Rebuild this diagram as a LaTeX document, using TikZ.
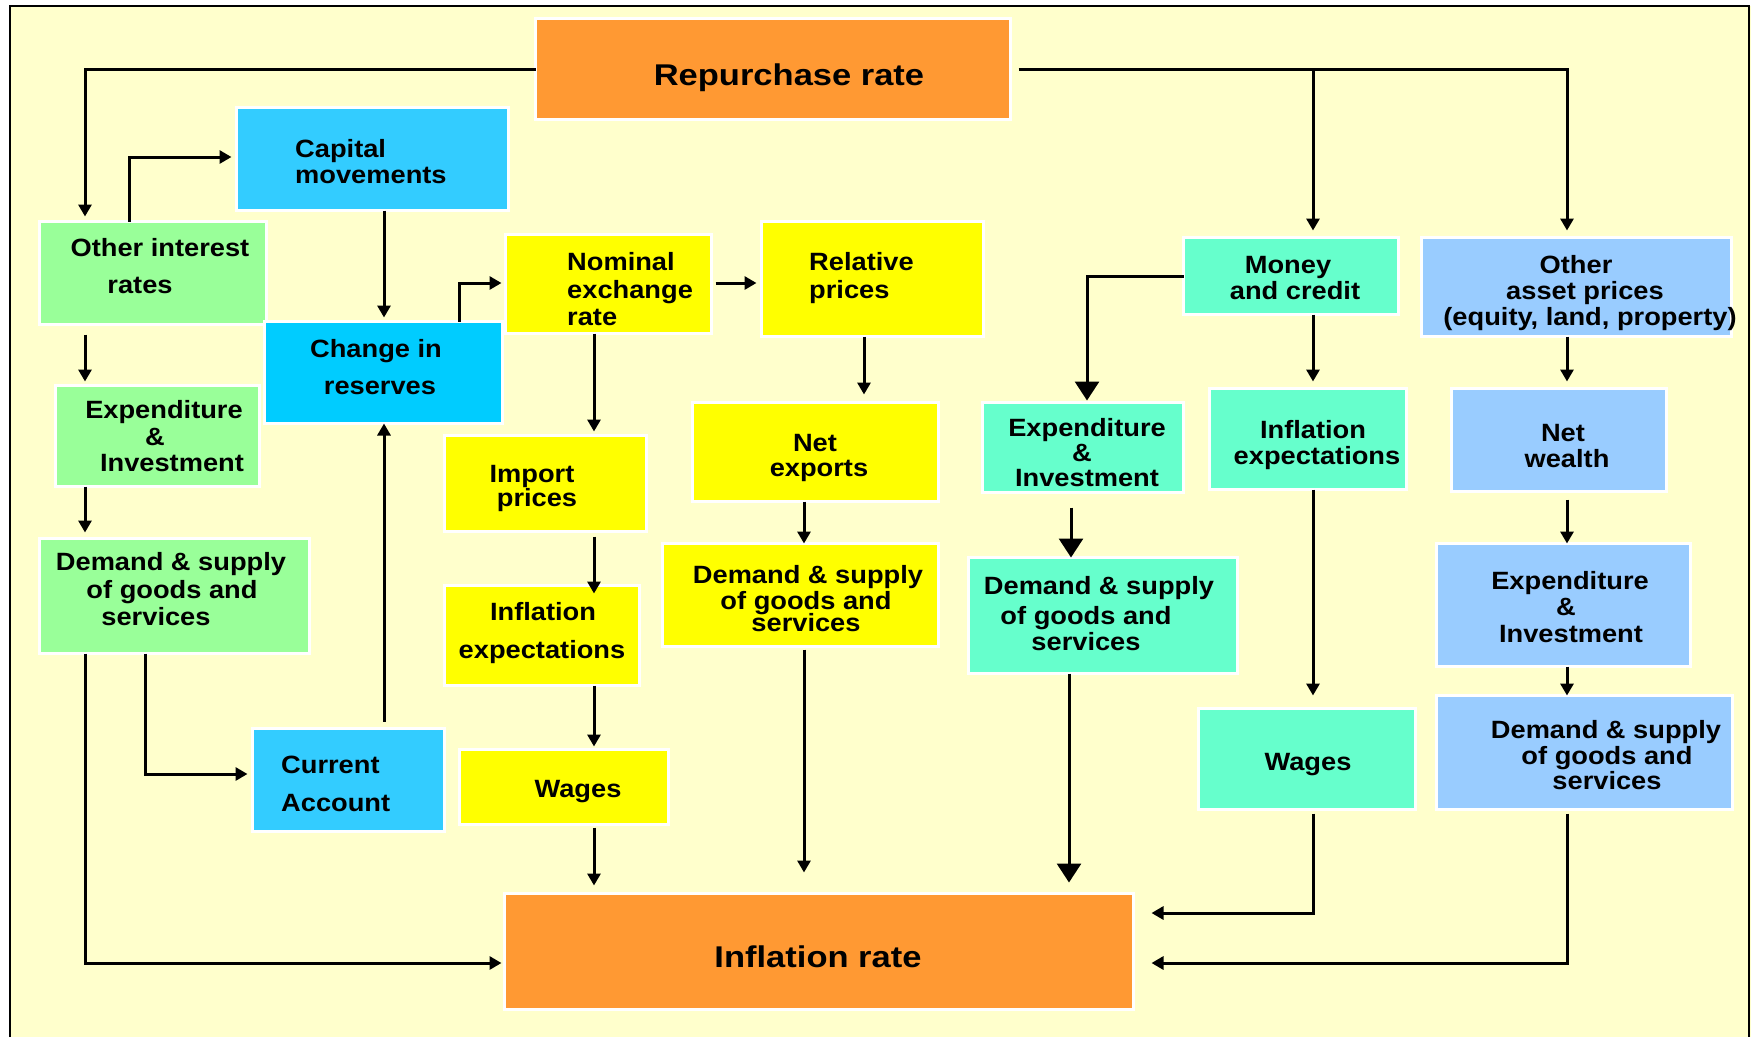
\documentclass[tikz,border=0pt]{standalone}
\usepackage{fontspec}
\usetikzlibrary{arrows.meta}
\newfontfamily\nfont{Liberation Sans}[FakeStretch=1.09]
\newfontfamily\lfont{Liberation Sans}[FakeStretch=1.15]
\definecolor{bg}{HTML}{FFFFCC}
\definecolor{cOr}{HTML}{FF9933}
\definecolor{cBl}{HTML}{33CCFF}
\definecolor{cBd}{HTML}{00CCFF}
\definecolor{cGr}{HTML}{99FF99}
\definecolor{cYe}{HTML}{FFFF00}
\definecolor{cTe}{HTML}{66FFCC}
\definecolor{cLb}{HTML}{99CCFF}
\begin{document}
\begin{tikzpicture}[x=1pt,y=-1pt,
  box/.style={draw=white,line width=3.5pt,inner sep=0pt,outer sep=0pt},
  txt/.style={inner sep=0pt,anchor=base,font=\nfont\bfseries\fontsize{25}{28}\selectfont},
  ltxt/.style={inner sep=0pt,anchor=base,font=\lfont\bfseries\fontsize{30}{34}\selectfont},
  arr/.style={line width=3pt,-{Triangle[length=12pt,width=13pt]}},
  bigarr/.style={line width=3pt,-{Triangle[length=19pt,width=24pt]}}]
\useasboundingbox (0,0) rectangle (1751,1037);
\fill[white] (0,0) rectangle (1751,1037);
\fill[bg] (10,6) rectangle (1751,1037);
\draw[line width=2pt] (10,1037) -- (10,6) -- (1749,6) -- (1749,1037);
% boxes
\node[box,fill=cOr,minimum width=475pt,minimum height=101pt] (rep) at (773,69) {};
\node[box,fill=cBl,minimum width=272pt,minimum height=103pt] (cap) at (372.5,159) {};
\node[box,fill=cGr,minimum width=227pt,minimum height=103pt] (oir) at (153,273) {};
\node[box,fill=cBd,minimum width=238pt,minimum height=102pt] (chr) at (383.5,372.5) {};
\node[box,fill=cYe,minimum width=206pt,minimum height=99pt] (nom) at (608.5,284) {};
\node[box,fill=cYe,minimum width=222pt,minimum height=115pt] (rel) at (872.5,279) {};
\node[box,fill=cTe,minimum width=215pt,minimum height=77pt] (mon) at (1291,276) {};
\node[box,fill=cLb,minimum width=310pt,minimum height=99pt] (oap) at (1576.5,287) {};
\node[box,fill=cGr,minimum width=204pt,minimum height=101pt] (exg) at (157.5,436) {};
\node[box,fill=cYe,minimum width=202pt,minimum height=96pt] (imp) at (545.5,483.5) {};
\node[box,fill=cYe,minimum width=246pt,minimum height=99pt] (nex) at (815.5,452) {};
\node[box,fill=cTe,minimum width=201pt,minimum height=90pt] (ext) at (1083,447.5) {};
\node[box,fill=cTe,minimum width=197pt,minimum height=101pt] (iet) at (1308,439) {};
\node[box,fill=cLb,minimum width=215pt,minimum height=103pt] (nw) at (1559,440) {};
\node[box,fill=cGr,minimum width=270pt,minimum height=115pt] (dsg) at (174.5,596) {};
\node[box,fill=cYe,minimum width=195pt,minimum height=100pt] (iey) at (542,635.5) {};
\node[box,fill=cYe,minimum width=276pt,minimum height=103pt] (dsy) at (800.5,595) {};
\node[box,fill=cTe,minimum width=269pt,minimum height=116pt] (dst) at (1103,615.5) {};
\node[box,fill=cLb,minimum width=254pt,minimum height=123pt] (exb) at (1563.5,605) {};
\node[box,fill=cLb,minimum width=296pt,minimum height=114pt] (dsb) at (1584.5,752.5) {};
\node[box,fill=cBl,minimum width=192pt,minimum height=103pt] (ca) at (348.5,780) {};
\node[box,fill=cYe,minimum width=209pt,minimum height=75pt] (wy) at (564,787) {};
\node[box,fill=cTe,minimum width=217pt,minimum height=101pt] (wt) at (1307,759) {};
\node[box,fill=cOr,minimum width=629pt,minimum height=116pt] (inf) at (819,951.5) {};
% texts
\node[ltxt] (t-rep) at (789,85) {Repurchase rate};
\node[ltxt] (t-inf) at (818,967) {Inflation rate};
\node[txt,anchor=base west] (t-cap1) at (295,157) {Capital};
\node[txt,anchor=base west] (t-cap2) at (295,183) {movements};
\node[txt] (t-oir1) at (160,256) {Other interest};
\node[txt] (t-oir2) at (140,293) {rates};
\node[txt] (t-chr1) at (376,357) {Change in};
\node[txt] (t-chr2) at (380,394) {reserves};
\node[txt,anchor=base west] (t-nom1) at (567,270) {Nominal};
\node[txt,anchor=base west] (t-nom2) at (567,298) {exchange};
\node[txt,anchor=base west] (t-nom3) at (567,325) {rate};
\node[txt,anchor=base west] (t-rel1) at (809,270) {Relative};
\node[txt,anchor=base west] (t-rel2) at (809,298) {prices};
\node[txt] (t-mon1) at (1288,273) {Money};
\node[txt] (t-mon2) at (1295,299) {and credit};
\node[txt] (t-oap1) at (1576,273) {Other};
\node[txt] (t-oap2) at (1585,299) {asset prices};
\node[txt] (t-oap3) at (1590,325) {(equity, land, property)};
\node[txt] (t-exg1) at (164,418) {Expenditure};
\node[txt] (t-exg2) at (155,445) {\&};
\node[txt] (t-exg3) at (172,471) {Investment};
\node[txt] (t-imp1) at (532,482) {Import};
\node[txt] (t-imp2) at (537,506) {prices};
\node[txt] (t-nex1) at (815,451) {Net};
\node[txt] (t-nex2) at (819,476) {exports};
\node[txt] (t-ext1) at (1087,436) {Expenditure};
\node[txt] (t-ext2) at (1082,461) {\&};
\node[txt] (t-ext3) at (1087,486) {Investment};
\node[txt] (t-iet1) at (1313,438) {Inflation};
\node[txt] (t-iet2) at (1317,464) {expectations};
\node[txt] (t-nw1) at (1563,441) {Net};
\node[txt] (t-nw2) at (1567,467) {wealth};
\node[txt] (t-dsg1) at (171,570) {Demand \& supply};
\node[txt] (t-dsg2) at (172,598) {of goods and};
\node[txt] (t-dsg3) at (156,625) {services};
\node[txt] (t-iey1) at (543,620) {Inflation};
\node[txt] (t-iey2) at (542,658) {expectations};
\node[txt] (t-dsy1) at (808,583) {Demand \& supply};
\node[txt] (t-dsy2) at (806,609) {of goods and};
\node[txt] (t-dsy3) at (806,631) {services};
\node[txt] (t-dst1) at (1099,594) {Demand \& supply};
\node[txt] (t-dst2) at (1086,624) {of goods and};
\node[txt] (t-dst3) at (1086,650) {services};
\node[txt] (t-exb1) at (1570,589) {Expenditure};
\node[txt] (t-exb2) at (1566,615) {\&};
\node[txt] (t-exb3) at (1571,642) {Investment};
\node[txt] (t-dsb1) at (1606,738) {Demand \& supply};
\node[txt] (t-dsb2) at (1607,764) {of goods and};
\node[txt] (t-dsb3) at (1607,789) {services};
\node[txt,anchor=base west] (t-ca1) at (281,773) {Current};
\node[txt,anchor=base west] (t-ca2) at (281,811) {Account};
\node[txt] (t-wy) at (578,797) {Wages};
\node[txt] (t-wt) at (1308,770) {Wages};
% connectors
\draw[arr,shorten >=5pt] (rep.west) -| (oir.north -| 85,0);
\draw[arr,shorten <=8pt,shorten >=7pt] (rep.east) -| (oap.north -| 1567,0);
\draw[arr,shorten >=7pt] (rep.east -| 1313,0) -- (mon.north -| 1313,0);
\draw[arr,shorten >=5pt] (oir.north -| 129,0) |- (cap.west |- 0,157);
\draw[arr,shorten <=10pt,shorten >=4pt] (oir.south -| 85,0) -- (exg.north -| 85,0);
\draw[arr,shorten >=6pt] (exg.south -| 85,0) -- (dsg.north -| 85,0);
\draw[arr,shorten >=4pt] (cap.south -| 384,0) -- (chr.north -| 384,0);
\draw[arr,shorten >=4pt] (chr.north -| 459,0) |- (nom.west |- 0,283);
\draw[arr,shorten <=4pt,shorten >=5pt] (nom.east |- 0,283) -- (rel.west |- 0,283);
\draw[arr,shorten >=4pt] (nom.south -| 594,0) -- (imp.north -| 594,0);
\draw[arr,shorten >=8pt] (rel.south -| 864,0) -- (nex.north -| 864,0);
\draw[arr,shorten <=5pt,shorten >=-8pt] (imp.south -| 594,0) -- (iey.north -| 594,0);
\draw[arr,shorten >=3pt] (iey.south -| 594,0) -- (wy.north -| 594,0);
\draw[arr,shorten <=3pt,shorten >=8pt] (wy.south -| 594,0) -- (inf.north -| 594,0);
\draw[arr] (nex.south -| 804,0) -- (dsy.north -| 804,0);
\draw[arr,shorten <=3pt,shorten >=21pt] (dsy.south -| 804,0) -- (inf.north -| 804,0);
\draw[bigarr,shorten >=2pt] (mon.west) -| (ext.north -| 1087,0);
\draw[arr,shorten >=7pt] (mon.south -| 1313,0) -- (iet.north -| 1313,0);
\draw[bigarr,shorten <=15pt] (ext.south -| 1071,0) -- (dst.north -| 1071,0);
\draw[bigarr,shorten >=11pt] (dst.south -| 1069,0) -- (inf.north -| 1069,0);
\draw[arr,shorten >=13pt] (iet.south -| 1313,0) -- (wt.north -| 1313,0);
\draw[arr,shorten <=4pt,shorten >=18pt] (wt.south -| 1313,0) |- (inf.east |- 0,913);
\draw[arr,shorten >=7pt] (oap.south -| 1567,0) -- (nw.north -| 1567,0);
\draw[arr,shorten <=8pt] (nw.south -| 1567,0) -- (exb.north -| 1567,0);
\draw[arr] (exb.south -| 1567,0) -- (dsb.north -| 1567,0);
\draw[arr,shorten <=4pt,shorten >=18pt] (dsb.south -| 1567,0) |- (inf.east |- 0,963);
\draw[arr,shorten >=5pt] (dsg.south -| 145,0) |- (ca.west |- 0,774);
\draw[arr,shorten >=3pt] (dsg.south -| 85,0) |- (inf.west |- 0,963);
\draw[arr,shorten <=7pt] (ca.north -| 384,0) -- (chr.south -| 384,0);
\end{tikzpicture}
\end{document}
